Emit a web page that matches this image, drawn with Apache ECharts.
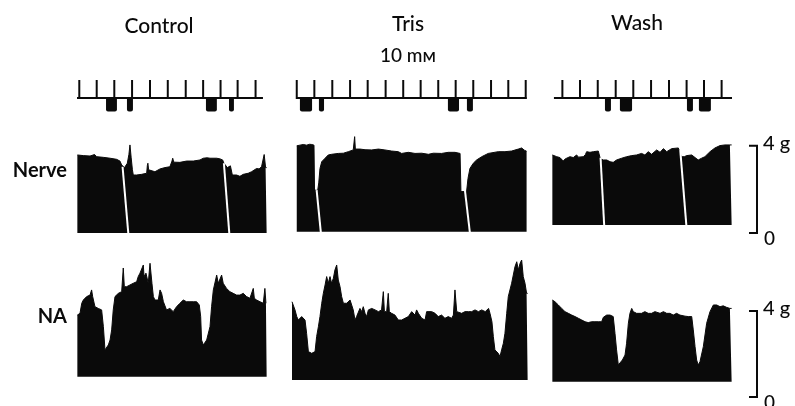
<!DOCTYPE html>
<html><head><meta charset="utf-8">
<script src="https://cdn.jsdelivr.net/npm/echarts@6/dist/echarts.min.js"></script>
<style>html,body{margin:0;padding:0;background:#fff}#c{width:795px;height:406px}</style>
</head><body><div id="c"></div>
<script>
// ---------- texts ----------
const panelTitles = ['Control', 'Tris', 'Wash'];
const trisConc = '10 m\u1D0D';
const rowLabels = ['Nerve', 'NA'];
const scaleLabels = ['4 g', '0'];
const scaleValues = [4, 0];

// ---------- time axis length of each panel (in stimulus-marker periods) ----------
const panelSpan = [10.8, 13.41, 10.23];

// ---------- stimulus marker trace ----------
const markerLine1 = [0, 10.57];
const markerLine2 = [0.23, 13.33];
const markerLine3 = [0.11, 10.23];
const markerTicks1 = [0.13, 1.12, 2.12, 3.13, 4.15, 5.16, 6.18, 7.17, 8.16, 9.13, 10.15];
const markerTicks2 = [0.27, 1.27, 2.29, 3.30, 4.30, 5.32, 6.32, 7.31, 8.31, 9.30, 10.30, 11.31, 12.29, 13.28];
const markerTicks3 = [0.59, 1.59, 2.60, 3.62, 4.62, 5.63, 6.65, 7.65, 8.64, 9.64];
const markerBlocks1 = [[1.65, 2.27], [2.84, 3.18], [7.33, 7.95], [8.64, 8.92]];
const markerBlocks2 = [[0.45, 1.14], [1.53, 1.82], [8.86, 9.49], [9.94, 10.28]];
const markerBlocks3 = [[3.01, 3.35], [3.86, 4.55], [7.67, 8.01], [8.35, 9.03]];

// ---------- Nerve-evoked contractions (g) ----------
const nerveBase = [0, 0.06, 0.37];
const nerve1 = [[0.02,3.58],[0.1,3.62],[0.36,3.55],[0.74,3.53],[1.0,3.6],[1.05,3.52],[1.12,3.5],[1.5,3.47],[1.88,3.43],[2.25,3.38],[2.44,3.3],[2.54,3.12],[2.7,3.0],[2.86,3.2],[2.95,3.6],[3.01,4.04],[3.08,3.45],[3.15,2.9],[3.2,2.66],[3.39,2.66],[3.67,2.69],[3.96,2.74],[4.0,3.1],[4.03,3.2],[4.07,2.9],[4.11,2.81],[4.43,2.81],[4.72,2.94],[5.0,3.0],[5.28,3.04],[5.40,3.3],[5.44,3.43],[5.5,3.25],[5.57,3.24],[5.85,3.24],[6.23,3.30],[6.61,3.30],[6.99,3.35],[7.18,3.43],[7.27,3.5],[7.4,3.45],[7.56,3.43],[7.94,3.43],[8.13,3.4],[8.28,3.35],[8.35,3.2],[8.55,3.0],[8.66,3.04],[8.72,3.08],[8.83,2.66],[9.07,2.66],[9.26,2.6],[9.45,2.69],[9.73,2.74],[9.92,2.81],[10.21,2.96],[10.35,2.94],[10.49,3.04],[10.6,3.0],[10.64,3.6],[10.68,3.58],[10.72,3.0],[10.78,3.0]];
const nerve2 = [[0.27,4.0],[0.35,4.04],[0.45,4.03],[0.55,4.07],[0.64,4.06],[0.83,4.03],[1.0,4.07],[1.12,4.06],[1.25,4.03],[1.28,1.97],[1.46,1.95],[1.52,2.3],[1.59,2.96],[1.69,3.27],[1.88,3.43],[2.06,3.58],[2.25,3.61],[2.63,3.65],[2.92,3.66],[3.20,3.73],[3.48,3.81],[3.53,3.8],[3.56,4.42],[3.60,3.85],[3.86,3.85],[4.15,3.82],[4.53,3.81],[4.91,3.85],[5.28,3.81],[5.66,3.76],[6.04,3.73],[6.23,3.65],[6.61,3.70],[6.99,3.65],[7.37,3.66],[7.75,3.61],[8.03,3.66],[8.50,3.65],[8.88,3.70],[9.26,3.70],[9.55,3.65],[9.60,1.9],[9.92,1.9],[10.0,2.5],[10.11,2.96],[10.30,3.20],[10.49,3.35],[10.78,3.50],[11.15,3.65],[11.72,3.73],[12.10,3.73],[12.48,3.76],[12.86,3.85],[13.05,3.90],[13.2,3.8],[13.33,3.75]];
const nerve3 = [[0.02,3.58],[0.1,3.55],[0.27,3.50],[0.45,3.46],[0.55,3.43],[0.64,3.30],[0.75,3.40],[0.83,3.43],[1.02,3.50],[1.21,3.46],[1.40,3.58],[1.50,3.48],[1.59,3.43],[1.78,3.50],[1.90,3.6],[1.97,3.73],[2.16,3.70],[2.35,3.73],[2.63,3.76],[2.69,3.81],[2.75,3.4],[2.92,3.35],[3.11,3.35],[3.30,3.27],[3.48,3.24],[3.67,3.35],[3.96,3.43],[4.24,3.50],[4.53,3.55],[4.81,3.58],[5.09,3.65],[5.28,3.58],[5.47,3.73],[5.66,3.61],[5.95,3.81],[6.14,3.70],[6.33,3.87],[6.52,3.73],[6.80,3.87],[7.18,3.90],[7.27,3.87],[7.35,3.5],[7.52,3.50],[7.65,3.55],[7.94,3.58],[8.13,3.46],[8.31,3.35],[8.50,3.43],[8.69,3.50],[8.98,3.73],[9.26,3.90],[9.55,4.01],[9.83,4.04],[10.11,4.04],[10.21,4.04]];
// relaxation gaps: [t top, g top, t bottom, g bottom]
const nerveGaps1 = [[2.59,3.04,2.92,-0.05],[8.35,3.2,8.66,-0.05]];
const nerveGaps2 = [[1.40,1.97,1.65,-0.06],[9.83,1.93,10.11,0.0]];
const nerveGaps3 = [[2.76,3.45,2.97,0.30],[7.29,3.8,7.65,0.21]];

// ---------- Noradrenaline contractions (g) ----------
const naBase = [0.94, 0.79, 0.71];
const na1 = [[0.02,3.81],[0.17,3.89],[0.27,4.36],[0.36,4.51],[0.45,4.59],[0.55,4.67],[0.64,4.67],[0.74,4.74],[0.83,4.98],[0.89,4.67],[1.02,4.20],[1.21,4.12],[1.40,4.05],[1.50,3.27],[1.59,2.19],[1.69,2.27],[1.78,2.42],[1.88,2.65],[1.97,3.12],[2.06,4.05],[2.16,4.67],[2.35,4.82],[2.54,4.90],[2.63,6.0],[2.69,5.13],[2.82,5.13],[3.01,5.21],[3.20,5.29],[3.39,5.36],[3.48,5.6],[3.58,5.76],[3.67,5.67],[3.77,6.14],[3.81,5.6],[3.92,5.76],[4.05,5.29],[4.15,6.22],[4.20,6.29],[4.26,5.29],[4.34,4.67],[4.43,4.51],[4.53,4.43],[4.62,4.51],[4.72,4.98],[4.81,4.82],[4.91,4.43],[5.09,4.05],[5.28,4.12],[5.47,3.97],[5.66,4.20],[5.85,4.36],[6.04,4.51],[6.23,4.43],[6.42,4.43],[6.61,4.43],[6.70,4.36],[6.80,4.43],[6.89,4.51],[6.95,4.28],[7.03,3.74],[7.08,2.65],[7.18,2.42],[7.27,2.50],[7.37,2.65],[7.56,3.27],[7.65,4.20],[7.75,4.98],[7.94,5.67],[8.03,5.29],[8.22,5.67],[8.31,5.29],[8.50,5.05],[8.69,4.90],[8.88,4.82],[9.07,4.74],[9.26,4.74],[9.45,4.82],[9.64,4.67],[9.83,4.59],[10.02,5.05],[10.08,4.59],[10.21,4.51],[10.40,4.43],[10.59,4.36],[10.68,5.05],[10.74,4.36],[10.78,4.36]];
const na2 = [[0,4.43],[0.08,4.36],[0.17,4.05],[0.27,3.74],[0.36,3.58],[0.45,3.66],[0.55,3.74],[0.64,3.81],[0.74,3.58],[0.83,2.96],[0.93,2.11],[1.12,2.03],[1.31,2.11],[1.40,2.81],[1.50,3.27],[1.59,3.74],[1.69,4.36],[1.78,4.82],[1.88,5.21],[1.97,5.60],[2.06,5.29],[2.16,5.60],[2.25,5.29],[2.35,5.52],[2.44,5.91],[2.54,6.14],[2.63,5.44],[2.73,5.13],[2.82,4.67],[2.92,4.36],[3.01,4.43],[3.11,4.36],[3.30,4.51],[3.39,4.43],[3.48,4.05],[3.58,3.58],[3.67,3.74],[3.77,3.81],[3.86,4.12],[3.96,3.97],[4.05,4.20],[4.15,3.89],[4.24,3.74],[4.34,4.05],[4.53,4.12],[4.72,4.05],[4.91,3.97],[5.09,4.05],[5.19,4.90],[5.25,3.97],[5.38,3.97],[5.47,4.82],[5.53,3.97],[5.66,3.89],[5.85,3.81],[6.04,3.58],[6.23,3.58],[6.42,3.66],[6.61,3.74],[6.80,3.97],[6.99,3.81],[7.08,4.05],[7.18,3.89],[7.37,3.66],[7.56,3.58],[7.65,3.97],[7.75,4.05],[7.94,3.97],[8.13,3.89],[8.31,3.74],[8.50,3.81],[8.69,3.66],[8.88,3.74],[9.07,3.66],[9.17,3.81],[9.26,4.98],[9.36,3.97],[9.45,3.97],[9.64,3.89],[9.83,3.97],[10.02,3.97],[10.21,3.97],[10.40,4.05],[10.59,3.97],[10.78,4.05],[10.98,3.97],[11.17,4.12],[11.25,3.89],[11.36,3.50],[11.44,2.81],[11.53,2.19],[11.72,2.03],[11.82,1.88],[11.91,2.19],[12.01,2.50],[12.10,2.96],[12.20,3.89],[12.29,4.67],[12.48,5.29],[12.67,6.06],[12.77,6.29],[12.86,5.91],[12.96,6.22],[13.05,6.37],[13.14,5.60],[13.24,5.29],[13.33,4.82],[13.39,4.82]];
const na3 = [[0.02,4.51],[0.17,4.43],[0.36,4.28],[0.55,4.12],[0.74,3.97],[0.93,3.89],[1.12,3.81],[1.31,3.74],[1.50,3.66],[1.69,3.58],[1.88,3.50],[2.06,3.46],[2.25,3.50],[2.35,3.58],[2.44,3.50],[2.54,3.43],[2.63,3.50],[2.82,3.50],[2.92,3.71],[3.11,3.81],[3.30,3.81],[3.48,3.74],[3.58,2.96],[3.67,2.19],[3.77,1.49],[3.86,1.57],[4.00,1.72],[4.15,1.95],[4.24,2.50],[4.34,3.43],[4.43,3.89],[4.53,4.12],[4.62,3.97],[4.72,4.05],[4.81,3.89],[4.91,3.97],[5.09,3.89],[5.28,3.97],[5.47,3.89],[5.66,3.89],[5.85,3.97],[6.14,3.89],[6.33,3.97],[6.52,3.89],[6.70,3.89],[6.89,3.81],[7.08,3.89],[7.27,3.81],[7.56,3.76],[7.75,3.74],[7.94,3.74],[8.03,3.12],[8.13,2.34],[8.22,1.72],[8.31,1.49],[8.41,1.64],[8.60,2.34],[8.79,3.43],[8.98,3.97],[9.17,4.28],[9.36,4.28],[9.55,4.20],[9.73,4.24],[9.92,4.17],[10.11,4.12],[10.21,4.12]];

// ---------- build ----------
const markerLines = [markerLine1, markerLine2, markerLine3];
const markerTicks = [markerTicks1, markerTicks2, markerTicks3];
const markerBlocks = [markerBlocks1, markerBlocks2, markerBlocks3];
const nerves = [nerve1, nerve2, nerve3];
const nerveGaps = [nerveGaps1, nerveGaps2, nerveGaps3];
const nas = [na1, na2, na3];

const PL = [77, 292, 552], PW = [190, 236, 180];
const ROW = {
  marker: {top: 76.4, height: 39.6, min: -1, max: 1.2},
  nerve: {top: 124, height: 119.9, min: -0.5, max: 5},
  na: {top: 257.25, height: 145.1, min: -0.25, max: 6.5}
};
const grid = [], xAxis = [], yAxis = [], series = [];
function addGrid(left, width, row, xmax) {
  const i = grid.length;
  grid.push({left: left, width: width, top: row.top, height: row.height});
  xAxis.push({type: 'value', gridIndex: i, min: 0, max: xmax, show: false});
  yAxis.push({type: 'value', gridIndex: i, min: row.min, max: row.max, show: false});
  return i;
}
const black = '#0a0a0a';
for (let p = 0; p < 3; p++) {
  const gm = addGrid(PL[p], PW[p], ROW.marker, panelSpan[p]);
  series.push({type: 'line', xAxisIndex: gm, yAxisIndex: gm, symbol: 'none', silent: true,
    data: [[markerLines[p][0], 0], [markerLines[p][1], 0]], lineStyle: {color: black, width: 2}});
  series.push({type: 'custom', xAxisIndex: gm, yAxisIndex: gm, silent: true,
    data: markerTicks[p].map(t => [t, 1]),
    renderItem: (params, api) => {
      const a = api.coord([api.value(0), 0]), b = api.coord([api.value(0), api.value(1)]);
      return {type: 'line', shape: {x1: a[0], y1: a[1] + 1, x2: b[0], y2: b[1]}, style: {stroke: black, lineWidth: 2}};
    }});
  series.push({type: 'custom', xAxisIndex: gm, yAxisIndex: gm, silent: true,
    data: markerBlocks[p].map(b => [b[0], b[1]]),
    renderItem: (params, api) => {
      const a = api.coord([api.value(0), 0]), b = api.coord([api.value(1), -0.75]);
      return {type: 'rect', shape: {x: a[0], y: a[1], width: b[0] - a[0], height: b[1] - a[1], r: [0, 0, 2, 2]}, style: {fill: black}};
    }});

  const gn = addGrid(PL[p], PW[p], ROW.nerve, panelSpan[p]);
  series.push({type: 'line', xAxisIndex: gn, yAxisIndex: gn, symbol: 'none', silent: true,
    data: nerves[p], lineStyle: {color: black, width: 1},
    areaStyle: {color: black, opacity: 1, origin: nerveBase[p]}});
  series.push({type: 'custom', xAxisIndex: gn, yAxisIndex: gn, silent: true, z: 5,
    data: nerveGaps[p],
    renderItem: (params, api) => {
      const a = api.coord([api.value(0), api.value(1)]), b = api.coord([api.value(2), api.value(3)]);
      return {type: 'line', shape: {x1: a[0], y1: a[1], x2: b[0], y2: b[1]}, style: {stroke: '#fff', lineWidth: 2}};
    }});

  const ga = addGrid(PL[p], PW[p], ROW.na, panelSpan[p]);
  series.push({type: 'line', xAxisIndex: ga, yAxisIndex: ga, symbol: 'none', silent: true,
    data: nas[p], lineStyle: {color: black, width: 1},
    areaStyle: {color: black, opacity: 1, origin: naBase[p]}});
}
// scale bars (same y scale as the traces)
['nerve', 'na'].forEach(r => {
  const g = addGrid(749, 8, ROW[r], 1);
  series.push({type: 'custom', xAxisIndex: g, yAxisIndex: g, silent: true,
    data: [[0, scaleValues[0], scaleValues[1]]],
    renderItem: (params, api) => {
      const top = api.value(1), bot = api.value(2);
      const p1 = api.coord([0, top]), p2 = api.coord([1, top]), p3 = api.coord([1, bot]), p4 = api.coord([0, bot]);
      return {type: 'group', children: [
        {type: 'polyline', shape: {points: [p1, p2, p3, p4]}, style: {stroke: black, lineWidth: 2, fill: null}},
        {type: 'text', x: p2[0] + 6, y: p2[1] - 2, style: {text: scaleLabels[0], font: '500 20px Lato', fill: black, align: 'left', verticalAlign: 'middle'}},
        {type: 'text', x: p3[0] + 7, y: p3[1] + 6, style: {text: scaleLabels[1], font: '500 19px Lato', fill: black, align: 'left', verticalAlign: 'middle'}}
      ]};
    }});
});

const titleFont = '500 21px Lato';
const graphic = [
  {type: 'text', x: 159, y: 26, style: {text: panelTitles[0], font: titleFont, fill: black, align: 'center', verticalAlign: 'middle'}},
  {type: 'text', x: 408, y: 24, style: {text: panelTitles[1], font: titleFont, fill: black, align: 'center', verticalAlign: 'middle'}},
  {type: 'text', x: 408, y: 56, style: {text: trisConc, font: '500 19px Lato, "DejaVu Sans"', fill: black, align: 'center', verticalAlign: 'middle'}},
  {type: 'text', x: 637, y: 23, style: {text: panelTitles[2], font: titleFont, fill: black, align: 'center', verticalAlign: 'middle'}},
  {type: 'text', x: 67, y: 171, style: {text: rowLabels[0], font: 'bold 20px Lato', fill: black, align: 'right', verticalAlign: 'middle'}},
  {type: 'text', x: 67, y: 317, style: {text: rowLabels[1], font: 'bold 20px Lato', fill: black, align: 'right', verticalAlign: 'middle'}}
];

const chart = echarts.init(document.getElementById('c'), null, {renderer: 'canvas'});
chart.setOption({animation: false, backgroundColor: '#fff', grid, xAxis, yAxis, series, graphic});
</script></body></html>
